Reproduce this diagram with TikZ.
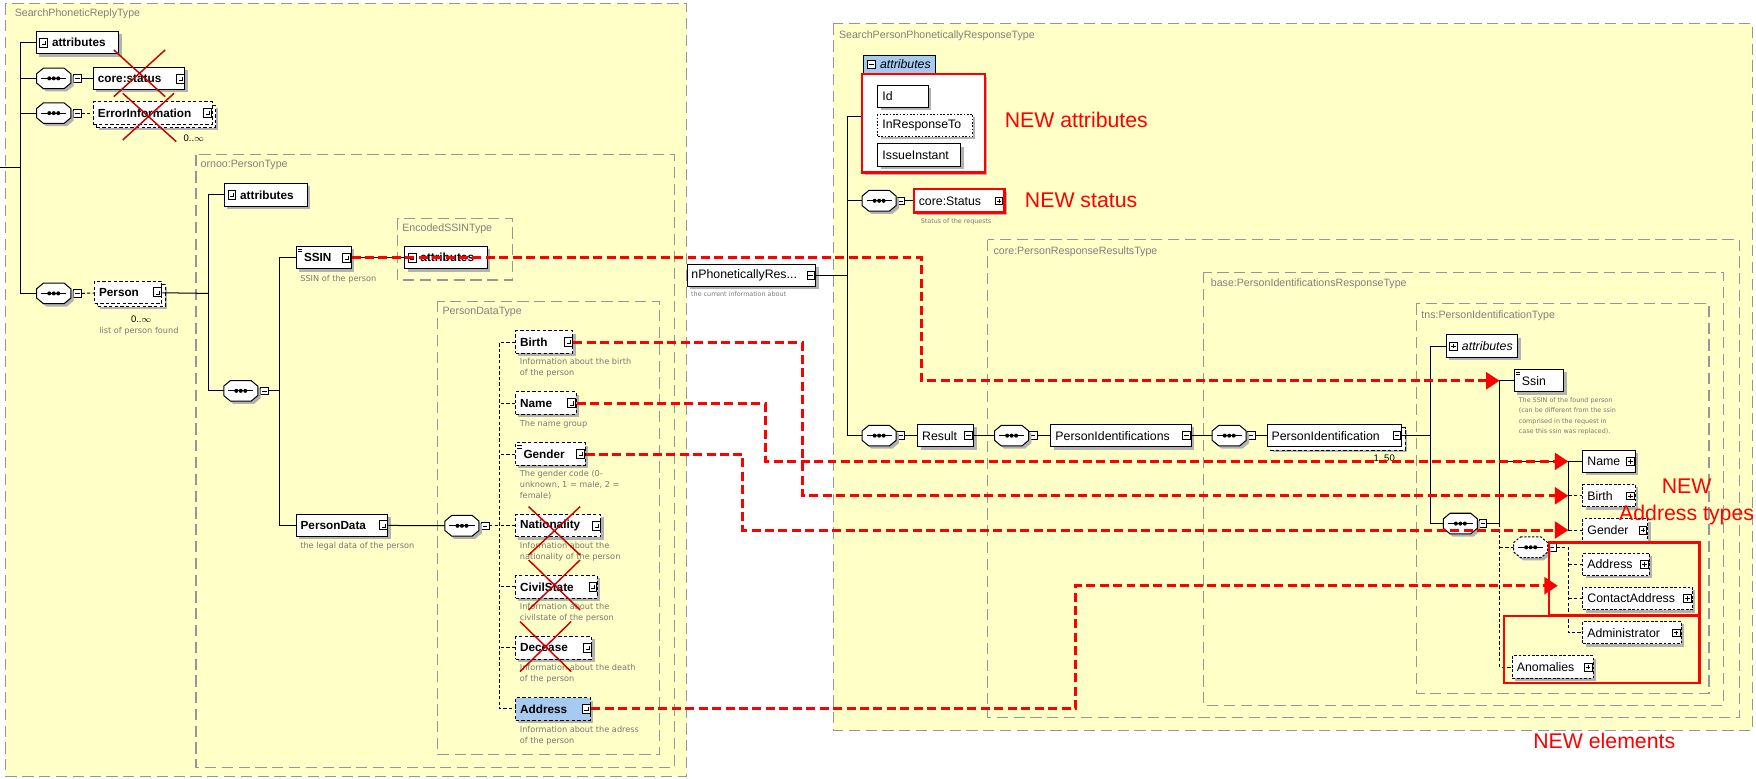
\documentclass[tikz,border=0pt]{standalone}
\usepackage{fontspec}
\setmainfont{Liberation Sans}
\newfontfamily\notefamily{DejaVu Sans}
\usetikzlibrary{shapes.misc,arrows.meta,shadows,positioning,calc}

\definecolor{paleyellow}{RGB}{255,255,200}
\definecolor{framegray}{RGB}{150,150,150}
\definecolor{notegray}{RGB}{120,120,120}
\definecolor{attrblue}{RGB}{166,202,240}
\definecolor{newred}{RGB}{255,0,0}
\definecolor{crossred}{RGB}{200,0,0}

\newcommand\elemfontL{\fontsize{10.5}{12}\selectfont\bfseries}
\newcommand\elemfontR{\fontsize{11}{13}\selectfont}

\tikzset{
  pics/plusico/.style={code={
    \draw[line width=0.5pt,fill=white] (-3.5,-3.5) rectangle (3.5,3.5);
    \draw[line width=0.5pt] (-2,0) -- (2,0) (0,-2) -- (0,2);}},
  pics/minusico/.style={code={
    \draw[line width=0.5pt,fill=white] (-3.5,-3.5) rectangle (3.5,3.5);
    \draw[line width=0.5pt] (-2,0) -- (2,0);}},
  pics/refico/.style={code={
    \draw[line width=0.6pt,fill=white] (-3.5,-4) rectangle (3.5,4);
    \draw[line width=0.6pt] (-1.5,1.5) -- (1.5,1.5) -- (1.5,-1.5);}},
  pics/eqico/.style={code={
    \draw[line width=0.6pt] (0,0) -- (4,0) (0,2) -- (4,2);}},
  boxshadow/.style={drop shadow={shadow xshift=2.5pt,shadow yshift=-2.5pt,fill=black!30,opacity=1}},
  stacked/.style={general shadow={shadow xshift=5pt,shadow yshift=-5pt,fill=black!30},
    general shadow={shadow xshift=3pt,shadow yshift=-3pt,fill=white,draw,line width=0.9pt,dash pattern=on 3pt off 2pt}},
  frame/.style={draw=framegray, line width=1pt, dash pattern=on 10pt off 5pt, fill=paleyellow},
  ftitle/.style={anchor=north west, inner sep=0pt, text=framegray!85!black, font=\fontsize{9.5}{11}\selectfont},
  elem/.style={draw, fill=white, line width=0.9pt, anchor=west, text width=#1, align=left,
    minimum height=20pt, inner xsep=4pt, inner ysep=0pt, font=\elemfontL, boxshadow},
  opt/.style={elem=#1, dash pattern=on 3pt off 2pt},
  attrbox/.style={elem=#1, execute at begin node={\hspace*{10pt}}},
  relem/.style={elem=#1, font=\elemfontR},
  ropt/.style={relem=#1, dash pattern=on 2.5pt off 1.5pt},
  seqsym/.style={minimum width=30pt, minimum height=18pt, inner sep=0pt},
  octa/.style={draw, fill=white, line width=0.9pt, boxshadow},
  octsolid/.style={},
  octdash/.style={dash pattern=on 2pt off 1.5pt},
  seqbox/.style={draw, fill=white, line width=0.5pt, minimum size=7pt, inner sep=0pt,
    path picture={\draw[line width=0.5pt] ([xshift=1.5pt]path picture bounding box.west) -- ([xshift=-1.5pt]path picture bounding box.east);}},
  note/.style={anchor=north west, inner sep=0pt, text=notegray, align=left, font=\notefamily\fontsize{7.3}{9.8}\selectfont},
  rnote/.style={note, font=\notefamily\fontsize{5.7}{9.2}\selectfont},
  occ/.style={inner sep=0pt, font=\fontsize{8.5}{10}\selectfont},
  link/.style={line width=0.9pt},
  optlink/.style={line width=0.9pt, dash pattern=on 3pt off 2pt},
  newlink/.style={draw=newred, line width=2.6pt, dash pattern=on 8pt off 4pt, -{Triangle[length=12pt,width=15pt]}},
  newbox/.style={draw=newred, line width=2.2pt},
  newtext/.style={text=newred, inner sep=0pt, font=\fontsize{19}{24}\selectfont},
  strike/.style={draw=crossred, line width=1.3pt}
}

\begin{document}
\begin{tikzpicture}[x=1pt,y=-1pt]
\useasboundingbox (0,0) rectangle (1568,695);

% type frames
\path[frame] (5,3) rectangle (613,693);
\node[ftitle] (t1) at (13,8) {SearchPhoneticReplyType};
\path[frame] (175,138) rectangle (602,685);
\node[ftitle] (t2) at (179,143) {ornoo:PersonType};
\path[frame] (355,195) rectangle (458,250);
\node[ftitle] (t3) at (359,200) {EncodedSSINType};
\path[frame] (391,269) rectangle (589,674);
\node[ftitle] (t4) at (395,274) {PersonDataType};
\path[frame] (744,21) rectangle (1565,652);
\node[ftitle] (t5) at (749,27) {SearchPersonPhoneticallyResponseType};
\path[frame] (882,214) rectangle (1553,641);
\node[ftitle] (t6) at (887,220) {core:PersonResponseResultsType};
\path[frame] (1075,243) rectangle (1539,630);
\node[ftitle] (t7) at (1081,249) {base:PersonIdentificationsResponseType};
\path[frame] (1265,271) rectangle (1526,619);
\node[ftitle] (t8) at (1269,277) {tns:PersonIdentificationType};

% old reply: top level
\coordinate (lin) at (0,150);
\coordinate (lbus) at (18,150);
\node[attrbox=65.6] (lattr) at (32,38) {attributes};
\node[seqsym] (ls1) at (48,70) {};
\node[seqbox] (ls1m) at (69,70) {};
\node[elem=73.7] (lstat) at (83,70) {core:status};
\node[seqsym] (ls2) at (48,101) {};
\node[seqbox] (ls2m) at (69,101) {};
\node[opt=98, stacked] (lerr) at (83,101) {ErrorInformation};
\node[occ] (lerrocc) at (173,123) {0..$\infty$};
\node[seqsym] (ls3) at (48,262) {};
\node[seqbox] (ls3m) at (69,262) {};
\node[opt=52, stacked] (lpers) at (84,261) {Person};
\node[occ] (lpersocc) at (126,285) {0..$\infty$};
\node[note, anchor=north] (lpersn) at (124,292) {list of person found};

\draw[link] (lin) -- (lbus);
\draw[link] (lattr.west) -| (lbus) |- (ls3.west);
\draw[link] (ls1.west) -- (ls1.west -| lbus);
\draw[link] (ls2.west) -- (ls2.west -| lbus);
\draw[link] (ls1) -- (ls1m);
\draw[link] (ls1m) -- (lstat);
\draw[link] (ls2) -- (ls2m);
\draw[optlink] (ls2m) -- (lerr);
\draw[link] (ls3) -- (ls3m);
\draw[optlink] (ls3m) -- (lpers);

% old reply: person
\coordinate (pbus) at (186,262);
\node[attrbox=66] (pattr) at (200,174) {attributes};
\node[seqsym] (ps) at (215,349) {};
\node[seqbox] (psm) at (236,349) {};
\coordinate (sbus) at (250,349);
\node[elem=41] (ssin) at (264,230) {\hspace*{3pt}SSIN};
\node[note] (ssinn) at (268,246) {SSIN of the person};
\node[attrbox=65.7] (eattr) at (361,230) {attributes};
\node[elem=74] (pdata) at (264,469) {PersonData};
\node[note] (pdatan) at (268,484) {the legal data of the person};
\node[seqsym] (ds) at (412.5,469.5) {};
\node[seqbox] (dsm) at (433,469.5) {};
\coordinate (dbus) at (446,469.5);

\draw[link] (lpers) -- (pbus);
\draw[link] (pattr.west) -| (pbus) |- (ps.west);
\draw[link] (ps) -- (psm);
\draw[link] (psm) -- (sbus);
\draw[link] (ssin.west) -| (sbus) |- (pdata.west);
\draw[link] (ssin) -- (eattr);
\draw[link] (pdata) -- (ds);
\draw[link] (ds) -- (dsm);

% old reply: person data
\node[opt=43] (pbirth) at (460,305.5) {Birth};
\node[opt=46] (pname) at (460,360) {Name};
\node[opt=54] (pgender) at (460,405.5) {\hspace*{3pt}Gender};
\node[opt=68] (pnation) at (460,469.5) {Nationality};
\node[opt=65] (pcivil) at (460,524) {CivilState};
\node[opt=60] (pdecease) at (460,578.5) {Decease};
\node[opt=59, fill=attrblue] (paddr) at (460,633) {Address};
\node[note] (pbirthn) at (464,320) {Information about the birth\\of the person};
\node[note] (pnamen) at (464,375) {The name group};
\node[note] (pgendern) at (464,420) {The gender code (0-\\unknown, 1 = male, 2 =\\female)};
\node[note] (pnationn) at (464,484) {Information about the\\nationality of the person};
\node[note] (pciviln) at (464,538.5) {Information about the\\civilstate of the person};
\node[note] (pdeceasen) at (464,593) {Information about the death\\of the person};
\node[note] (paddrn) at (464,648) {Information about the adress\\of the person};

\draw[optlink] (dsm) -- (dbus);
\draw[optlink] (pbirth.west) -| (dbus) |- (paddr.west);
\foreach \n in {pname,pgender,pnation,pcivil,pdecease}
  \draw[optlink] (\n.west) -- (\n.west -| dbus);

% removed items
\draw[strike] (101.6,44.6) -- (147.5,86.3) (147.5,44.6) -- (101.6,86.3);
\draw[strike] (109.6,83.3) -- (157.4,126.5) (155.4,83.3) -- (109.6,125);
\draw[strike] (472,452.4) -- (518,495.6) (518,452.4) -- (472,495.6);
\draw[strike] (472,500) -- (518,544.7) (518,500) -- (472,544.7);
\draw[strike] (464.3,555) -- (510,599.7) (510,555) -- (464.3,599.7);

% new response: top level
\node[relem=107] (rcur) at (613,246) {nPhoneticallyRes...};
\node[rnote] (rcurn) at (617,260) {the current information about};
\coordinate (rtop) at (757,103.6);
\node[draw, fill=white, line width=0.9pt, anchor=north west, minimum width=109pt,
  minimum height=87pt, inner sep=0pt, boxshadow] (rpanel) at (769.7,66) {};
\node[draw, fill=attrblue, line width=0.9pt, anchor=south west, minimum width=64pt,
  minimum height=16pt, inner xsep=2pt, inner ysep=0pt, font=\elemfontR\itshape] (rhead) at (771,66) {\hspace*{10pt}attributes};
\node[relem=37] (rid) at (783.5,86) {Id};
\node[relem=76.5, dash pattern=on 1.5pt off 1.5pt] (rirt) at (783.5,112) {InResponseTo};
\node[relem=66] (rii) at (783.5,138.5) {IssueInstant};
\node[seqsym] (rs1) at (785,179.3) {};
\node[seqbox] (rs1m) at (804,179.3) {};
\node[relem=72] (rstat) at (816,179.3) {core:Status};
\node[rnote] (rstatn) at (822,195) {Status of the requests};

\draw[link] (rtop) -- (rtop -| rpanel.west);
\draw[link] (rtop) |- (rs1.west);
\draw[link] (rcur) -- (rcur -| rtop);
\draw[link] (rs1) -- (rs1m);
\draw[link] (rs1m) -- (rstat);

% new response: result chain
\node[seqsym] (rs2) at (785,389) {};
\node[seqbox] (rs2m) at (804,389) {};
\node[relem=42] (rres) at (819,389) {Result};
\node[seqsym] (rs3) at (903.3,389) {};
\node[seqbox] (rs3m) at (922.5,389) {};
\node[relem=117.4] (rpids) at (938,389) {PersonIdentifications};
\node[seqsym] (rs4) at (1097.6,389) {};
\node[seqbox] (rs4m) at (1117,389) {};
\node[relem=112.3, stacked] (rpid) at (1131,389) {PersonIdentification};
\node[occ] (rpidocc) at (1236,409) {1..50};
\coordinate (tbus) at (1277,389);

\draw[link] (rtop) |- (rs2.west);
\draw[link] (rs2) -- (rs2m);
\draw[link] (rs2m) -- (rres);
\draw[link] (rres) -- (rs3);
\draw[link] (rs3) -- (rs3m);
\draw[link] (rs3m) -- (rpids);
\draw[link] (rpids) -- (rs4);
\draw[link] (rs4) -- (rs4m);
\draw[link] (rs4m) -- (rpid);
\draw[link] (rpid) -- (tbus);

% new response: person identification
\node[relem=56, font=\elemfontR\itshape] (tattr) at (1291,309) {\hspace*{10pt}attributes};
\node[seqsym] (ts) at (1304,467.5) {};
\node[seqbox] (tsm) at (1324,467.5) {};
\coordinate (strunk) at (1339,467.5);
\coordinate (gtrunk) at (1400.4,412);
\node[relem=36.5] (rssin) at (1351.5,340) {\hspace*{3pt}Ssin};
\node[rnote] (rssinn) at (1356,355) {The SSIN of the found person\\(can be different from the ssin\\comprised in the request in\\case this ssin was replaced).};
\node[relem=39] (rname) at (1413,412) {Name};
\node[ropt=39] (rbirth) at (1413,442.7) {Birth};
\node[ropt=50] (rgender) at (1413,473.3) {Gender};
\node[seqsym] (cs) at (1366.8,488.7) {};
\node[seqbox] (csm) at (1386,488.7) {};
\node[ropt=51.4] (raddr) at (1413,504) {Address};
\node[ropt=90] (rcaddr) at (1413,534.5) {ContactAddress};
\node[ropt=79.6] (radmin) at (1413,565) {Administrator};
\node[ropt=64] (ranom) at (1350,595.7) {Anomalies};

\draw[link] (tattr.west) -| (tbus) |- (ts.west);
\draw[link] (ts) -- (tsm);
\draw[link] (tsm) -- (strunk);
\draw[link] (rssin.west) -| (strunk);
\draw[optlink] (strunk) |- (ranom.west);
\draw[link] (rname.west -| strunk) -- (rname.west);
\draw[link] (gtrunk) -- (rgender.west -| gtrunk);
\draw[optlink] (rbirth.west -| gtrunk) -- (rbirth.west);
\draw[optlink] (rgender.west -| gtrunk) -- (rgender.west);
\draw[optlink] (cs.west -| strunk) -- (cs.west);
\draw[link] (cs) -- (csm);
\draw[optlink] (csm.east) -- (csm.east -| gtrunk) |- (radmin.west);
\draw[optlink] (raddr.west -| gtrunk) -- (raddr.west);
\draw[optlink] (rcaddr.west -| gtrunk) -- (rcaddr.west);

% sequence symbols
\foreach \n/\pat in {ls1/octsolid,ls2/octsolid,ls3/octsolid,ps/octsolid,ds/octsolid,rs1/octsolid,
    rs2/octsolid,rs3/octsolid,rs4/octsolid,ts/octsolid,cs/octdash} {
  \draw[octa,\pat] ([xshift=6pt]\n.north west) -- ([xshift=-6pt]\n.north east) -- ([yshift=-5pt]\n.north east)
    -- ([yshift=5pt]\n.south east) -- ([xshift=-6pt]\n.south east) -- ([xshift=6pt]\n.south west)
    -- ([yshift=5pt]\n.south west) -- ([yshift=-5pt]\n.north west) -- cycle;
  \draw[line width=0.9pt] ([xshift=4pt]\n.west) -- ([xshift=-4pt]\n.east);
  \foreach \d in {-4,0,4} \fill ([xshift=\d pt]\n.center) circle (1.8pt);
}

% expand icons
\foreach \n in {lstat,lerr,lpers,ssin,pdata,pbirth,pname,pgender,pnation,pcivil,pdecease,paddr}
  \pic at ([xshift=-4.5pt]\n.east) {refico};
\foreach \n in {lattr,pattr,eattr}
  \pic at ([xshift=7pt]\n.west) {refico};
\foreach \n in {rcur,rres,rpids,rpid}
  \pic at ([xshift=-5pt]\n.east) {minusico};
\foreach \n in {rstat,rname,rbirth,rgender,raddr,rcaddr,radmin,ranom}
  \pic at ([xshift=-5pt]\n.east) {plusico};
\pic at ([xshift=7pt]tattr.west) {plusico};
\pic at ([xshift=7pt]rhead.west) {minusico};
\foreach \n in {ssin,pgender,rssin}
  \pic at ([xshift=2pt,yshift=-3pt]\n.north west) {eqico};

% marks of what is new
\draw[newbox] (rpanel.north west) rectangle (rpanel.south east);
\draw[newbox] (rstat.north west) rectangle (rstat.south east);
\draw[newbox] (1383,484.5) rectangle (1517.5,549);
\draw[newbox] (1342.8,550) rectangle (1517.5,610);
\node[newtext, anchor=west] (newattr) at (897,107) {NEW attributes};
\node[newtext, anchor=west] (newstat) at (915,179) {NEW status};
\node[newtext, align=center] (newaddr) at (1506,448) {NEW\\Address types};
\node[newtext] (newelem) at (1432.5,662) {NEW elements};

% mapping old -> new
\coordinate (bendS) at (823,0);
\coordinate (bendB) at (716.4,0);
\coordinate (bendN) at (683.3,0);
\coordinate (bendG) at (663.2,0);
\coordinate (bendA) at (960,0);
\coordinate (atip) at (1391,523);
\draw[newlink] (ssin.east) -| (bendS |- rssin.west) -- (rssin.west -| strunk);
\draw[newlink] (pbirth.east) -| (bendB |- rbirth.west) -- (rbirth.west -| gtrunk);
\draw[newlink] (pname.east) -| (bendN |- rname.west) -- (rname.west -| gtrunk);
\draw[newlink] (pgender.east) -| (bendG |- rgender.west) -- (rgender.west -| gtrunk);
\draw[newlink] (paddr.east) -| (bendA |- atip) -- (atip);
\end{tikzpicture}
\end{document}
